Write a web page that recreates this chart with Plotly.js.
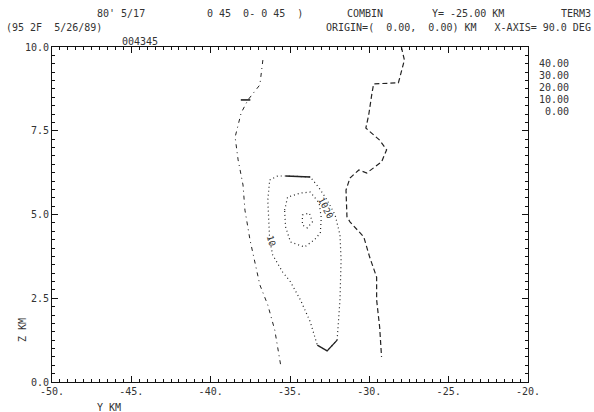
<!DOCTYPE html>
<html><head><meta charset="utf-8">
<script src="https://cdn.plot.ly/plotly-3.0.1.min.js"></script>
<style>html,body{margin:0;padding:0;background:#fff}#c{width:594px;height:412px}</style>
</head><body><div id="c"></div>
<script>
// Axis ticks
const xTickVals = [-50, -45, -40, -35, -30, -25, -20];
const xTickText = ["-50.", "-45.", "-40.", "-35.", "-30.", "-25.", "-20."];
const yTickVals = [0, 2.5, 5, 7.5, 10];
const yTickText = ["0.0", "2.5", "5.0", "7.5", "10.0"];

// Contour levels (dBZ) listed at right
const levelLabels = ["40.00", "30.00", "20.00", "10.00", "0.00"];

// 0 dBZ contour, left branch
const c0LeftX = [-36.71, -36.90, -37.65, -38.08, -38.46, -38.27, -37.96, -37.84, -37.52, -36.90, -36.40, -35.96, -35.59];
const c0LeftY = [9.61, 8.87, 8.42, 8.03, 7.31, 6.63, 5.88, 5.13, 4.24, 2.90, 2.30, 1.55, 0.51];
// 0 dBZ contour, right branch
const c0RightX = [-27.98, -27.79, -28.17, -29.73, -29.85, -30.04, -30.22, -29.35, -28.91, -29.23, -30.16, -30.66, -31.22, -31.47, -31.41, -31.22, -30.35, -29.98, -29.54, -29.54, -29.35, -29.23];
const c0RightY = [10.0, 9.61, 8.93, 8.90, 8.57, 7.97, 7.58, 7.22, 6.93, 6.57, 6.24, 6.33, 6.09, 5.73, 4.93, 4.78, 4.33, 3.73, 3.13, 2.45, 1.64, 0.75];
// 10 dBZ contour
const c10X = [-36.28, -35.78, -35.28, -33.72, -33.16, -32.66, -32.16, -31.85, -31.78, -31.85, -32.03, -32.66, -33.28, -33.72, -34.34, -34.97, -35.46, -36.09, -36.28, -36.40, -36.28];
const c10Y = [6.03, 6.15, 6.15, 6.12, 5.79, 5.43, 4.99, 4.39, 3.64, 2.45, 1.25, 0.93, 1.10, 1.79, 2.45, 2.99, 3.28, 3.79, 4.24, 5.43, 6.03];
// 20 dBZ contour
const c20X = [-35.34, -35.15, -34.34, -33.72, -33.16, -33.03, -33.09, -33.47, -34.09, -34.97, -35.28, -35.34];
const c20Y = [5.13, 5.52, 5.64, 5.67, 5.34, 4.90, 4.45, 4.24, 4.03, 4.18, 4.63, 5.13];
// 30 dBZ contour
const c30X = [-34.22, -33.78, -33.59, -33.91, -34.22, -34.22];
const c30Y = [4.99, 5.04, 4.78, 4.60, 4.69, 4.99];
// Heavier (solid) pieces of contours
const solidTopX = [-35.28, -33.72];
const solidTopY = [6.15, 6.12];
const solidBotX = [-33.28, -32.66, -32.03];
const solidBotY = [1.10, 0.93, 1.25];
const solidDashX = [-38.10, -37.50];
const solidDashY = [8.42, 8.42];

const ink = '#222';
function line(x, y, dash, w) {
  return {type: 'scatter', mode: 'lines', x: x, y: y, hoverinfo: 'skip', showlegend: false,
          line: {color: ink, width: w || 1, dash: dash}};
}
const traces = [
  line(c0LeftX, c0LeftY, '4px,4px,1px,4px', 1),
  line(c0RightX, c0RightY, '5px,3px', 1.2),
  line(c10X, c10Y, '1px,3px', 1.2),
  line(c20X, c20Y, '1px,3px', 1.2),
  line(c30X, c30Y, '1px,3px', 1.2),
  line(solidTopX, solidTopY, 'solid', 1.6),
  line(solidBotX, solidBotY, 'solid', 1.3),
  line(solidDashX, solidDashY, 'solid', 1.6)
];

const F = 'DejaVu Sans Mono, monospace';
const tc = '#333';
function txt(x, y, s, anchor, extra) {
  return Object.assign({xref: 'paper', yref: 'paper', x: x, y: y, text: s, showarrow: false,
          xanchor: anchor || 'left', yanchor: 'middle', font: {family: F, size: 10, color: tc}}, extra || {});
}
const L = 52, R = 528, T = 47, B = 382;
function px(x) { return (x - L) / (R - L); }
function py(y) { return (B - y) / (B - T); }

const ann = [
  txt(px(95), py(13), "80' 5/17"),
  txt(px(205), py(13), "0 45  0- 0 45  )"),
  txt(px(345), py(13), "COMBIN"),
  txt(px(430), py(13), "Y= -25.00 KM"),
  txt(px(593), py(13), "TERM3", 'right'),
  txt(px(4), py(27), "(95 2F  5/26/89)"),
  txt(px(593), py(27), "ORIGIN=(  0.00,  0.00) KM   X-AXIS= 90.0 DEG", 'right'),
  txt(px(120), py(41), "004345"),
  txt(px(22), py(330), "Z KM", 'center', {textangle: -90}),
  txt(px(95), py(407), "Y KM", 'left')
];
levelLabels.forEach((s, i) => ann.push(txt(px(571), py(63 + i * 12), s, 'right')));
// in-plot contour labels
ann.push({x: -36.2, y: 4.2, xref: 'x', yref: 'y', text: '10', showarrow: false, textangle: 75,
          font: {family: F, size: 9, color: tc}});
ann.push({x: -32.9, y: 5.35, xref: 'x', yref: 'y', text: '10', showarrow: false, textangle: 60,
          font: {family: F, size: 9, color: tc}});
ann.push({x: -32.6, y: 5.05, xref: 'x', yref: 'y', text: '20', showarrow: false, textangle: 60,
          font: {family: F, size: 9, color: tc}});

const axisCommon = {
  showgrid: false, zeroline: false, showline: true, linecolor: '#111', linewidth: 1,
  mirror: 'allticks', ticks: 'inside', ticklen: 6, tickcolor: '#111', tickwidth: 1,
  tickfont: {family: F, size: 10, color: tc}, fixedrange: true
};
const layout = {
  width: 594, height: 412,
  margin: {l: L, r: 594 - R, t: T, b: 412 - B, pad: 0},
  paper_bgcolor: '#fff', plot_bgcolor: '#fff',
  font: {family: F, size: 10, color: tc},
  xaxis: Object.assign({}, axisCommon, {range: [-50, -20], tickmode: 'array', tickvals: xTickVals, ticktext: xTickText,
    minor: {tickmode: 'linear', tick0: -50, dtick: 0.5, ticks: 'inside', ticklen: 3, tickcolor: '#111', showgrid: false}}),
  yaxis: Object.assign({}, axisCommon, {range: [0, 10], tickmode: 'array', tickvals: yTickVals, ticktext: yTickText,
    minor: {tickmode: 'linear', tick0: 0, dtick: 0.25, ticks: 'inside', ticklen: 3, tickcolor: '#111', showgrid: false}}),
  annotations: ann,
  showlegend: false
};
Plotly.newPlot('c', traces, layout, {displayModeBar: false, staticPlot: true});
</script></body></html>
